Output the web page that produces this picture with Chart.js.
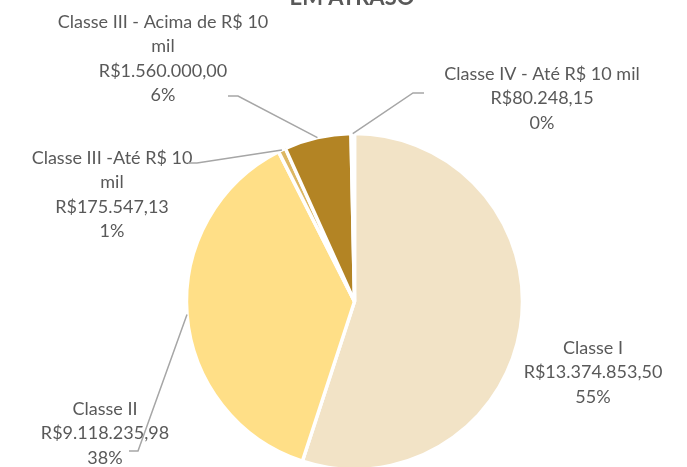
<!DOCTYPE html>
<html>
<head>
<meta charset="utf-8">
<script src="https://cdn.jsdelivr.net/npm/chart.js@4.4.1/dist/chart.umd.min.js"></script>
<style>
  html, body { margin: 0; padding: 0; background: #ffffff; overflow: hidden; }
  #wrap { position: relative; width: 687px; height: 467px; }
</style>
</head>
<body>
<div id="wrap"><canvas id="c" width="687" height="467"></canvas></div>
<script>
// ---- data ----
const categories = [
  'Classe I',
  'Classe II',
  'Classe III -Até R$ 10 mil',
  'Classe III - Acima de R$ 10 mil',
  'Classe IV - Até R$ 10 mil'
];
const values = [13374853.50, 9118235.98, 175547.13, 1560000.00, 80248.15];
// label line breaks as shown in the chart
const labelLines = [
  ['Classe I'],
  ['Classe II'],
  ['Classe III -Até R$ 10', 'mil'],
  ['Classe III - Acima de R$ 10', 'mil'],
  ['Classe IV - Até R$ 10 mil']
];
const titleText = 'EM ATRASO';

// ---- styling / layout ----
const colors = ['#F2E3C6', '#FFDF87', '#DDB763', '#B38424', '#F7EEDC'];
const FONT = 'Lato, "Open Sans", sans-serif';
// label block centers (x, first-line y) and leader elbow points
const labelLayout = [
  { x: 593, y: 348, elbow: null },
  { x: 105, y: 409, elbow: [[129, 451], [138, 451]] },
  { x: 112, y: 158, elbow: [[188, 163], [197, 163]] },
  { x: 163, y: 22,  elbow: [[228, 96], [238, 96]] },
  { x: 542, y: 74,  elbow: [[424, 93], [413, 93]] }
];

function fmtBRL(v) {
  const parts = v.toFixed(2).split('.');
  const intp = parts[0].replace(/\B(?=(\d{3})+(?!\d))/g, '.');
  return 'R$' + intp + ',' + parts[1];
}
const total = values.reduce((a, b) => a + b, 0);

const labelPlugin = {
  id: 'excelLabels',
  afterDatasetsDraw(chart) {
    const ctx = chart.ctx;
    const meta = chart.getDatasetMeta(0);
    ctx.save();
    // title
    ctx.fillStyle = '#595959';
    ctx.font = 'bold 22px ' + FONT;
    ctx.textAlign = 'center';
    ctx.textBaseline = 'alphabetic';
    ctx.fillText(titleText, 352, 5);

    meta.data.forEach((arc, i) => {
      const L = labelLayout[i];
      const lines = labelLines[i].concat([fmtBRL(values[i]), Math.round(values[i] / total * 100) + '%']);
      ctx.fillStyle = '#595959';
      ctx.font = '18px ' + FONT;
      ctx.textAlign = 'center';
      ctx.textBaseline = 'middle';
      lines.forEach((t, k) => ctx.fillText(t, L.x, L.y + k * 24.4));
      if (L.elbow) {
        const mid = (arc.startAngle + arc.endAngle) / 2;
        const px = arc.x + Math.cos(mid) * arc.outerRadius;
        const py = arc.y + Math.sin(mid) * arc.outerRadius;
        ctx.strokeStyle = '#A6A6A6';
        ctx.lineWidth = 1.5;
        ctx.beginPath();
        ctx.moveTo(L.elbow[0][0], L.elbow[0][1]);
        ctx.lineTo(L.elbow[1][0], L.elbow[1][1]);
        ctx.lineTo(px, py);
        ctx.stroke();
      }
    });
    ctx.restore();
  }
};

new Chart(document.getElementById('c'), {
  type: 'pie',
  data: {
    labels: categories,
    datasets: [{
      data: values,
      backgroundColor: colors,
      borderColor: '#ffffff',
      borderWidth: 3.5,
      radius: 168
    }]
  },
  options: {
    responsive: false,
    animation: false,
    layout: { padding: { top: 136, bottom: 0, left: 22, right: 0 } },
    plugins: {
      legend: { display: false },
      title: { display: false },
      tooltip: { enabled: false }
    }
  },
  plugins: [labelPlugin]
});
</script>
</body>
</html>
